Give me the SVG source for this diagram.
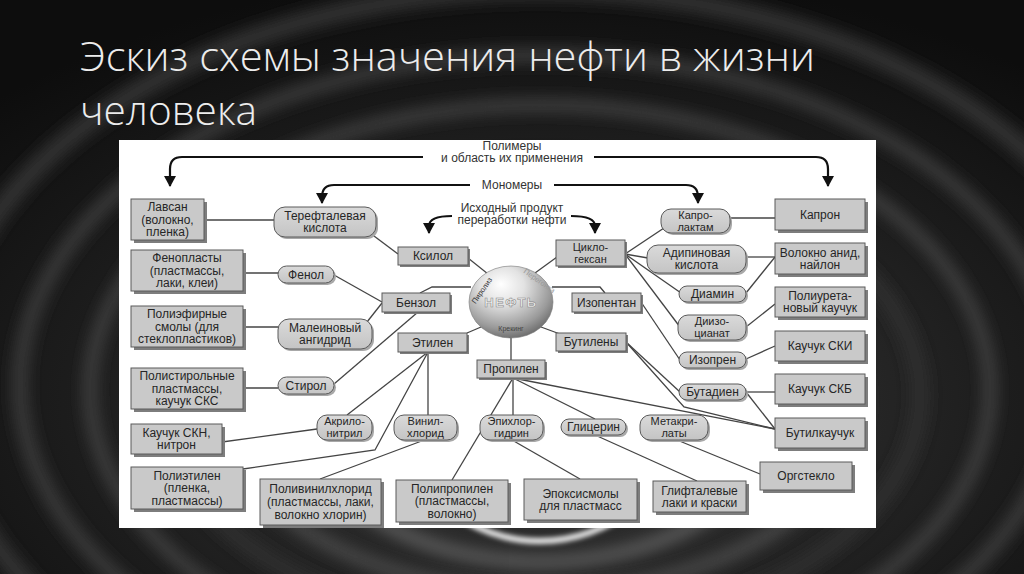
<svg xmlns="http://www.w3.org/2000/svg" width="1024" height="574" viewBox="0 0 1024 574">
<style>
.title{font-family:"Open Sans","Noto Sans","Liberation Sans",sans-serif;font-weight:300;font-size:40px;fill:#ececec}
.t{font-family:"Liberation Sans",Arial,sans-serif;font-size:12px;fill:#262626;text-anchor:middle}
.s{font-size:11px}
.h{font-family:"Liberation Sans",Arial,sans-serif;font-size:12px;fill:#333;text-anchor:middle}
.box{fill:#c9c9c9;stroke:#5a5a5a;stroke-width:1}
.pill{fill:url(#pillg);stroke:#5a5a5a;stroke-width:1}
.sh{fill:#7d7d7d}
.shp{fill:#a8a8a8}
.c{fill:none;stroke:#444;stroke-width:1.3}
.arr{fill:none;stroke:#111;stroke-width:2.2;marker-end:url(#ah)}
.ring{fill:none;filter:url(#blur)}
</style>
<defs>
<radialGradient id="bg" cx="0.53" cy="0.7" r="0.75">
<stop offset="0" stop-color="#3a3a3a"/>
<stop offset="0.6" stop-color="#1d1d1d"/>
<stop offset="1" stop-color="#0d0d0d"/>
</radialGradient>
<radialGradient id="sph" cx="0.42" cy="0.32" r="0.75" fx="0.38" fy="0.25">
<stop offset="0" stop-color="#ffffff"/>
<stop offset="0.35" stop-color="#e2e2e2"/>
<stop offset="0.75" stop-color="#9a9a9a"/>
<stop offset="1" stop-color="#5e5e5e"/>
</radialGradient>
<linearGradient id="pillg" x1="0" y1="0" x2="0" y2="1">
<stop offset="0" stop-color="#dadada"/>
<stop offset="1" stop-color="#c4c4c4"/>
</linearGradient>
<filter id="blur" x="-20%" y="-20%" width="140%" height="140%"><feGaussianBlur stdDeviation="8"/></filter>
<filter id="blur2" x="-20%" y="-20%" width="140%" height="140%"><feGaussianBlur stdDeviation="2.5"/></filter>
<marker id="ah" markerUnits="userSpaceOnUse" markerWidth="12" markerHeight="12" refX="10" refY="6" orient="auto" viewBox="0 0 12 12">
<path d="M0,0 L11,6 L0,12 Z" fill="#111"/>
</marker>
</defs>

<!-- background -->
<rect width="1024" height="574" fill="url(#bg)"/>
<g id="ripples">
<ellipse class="ring" cx="540" cy="380" rx="600" ry="390" stroke="#363636" stroke-width="18"/>
<ellipse class="ring" cx="540" cy="385" rx="520" ry="330" stroke="#424242" stroke-width="12"/>
<ellipse class="ring" cx="540" cy="390" rx="450" ry="285" stroke="#4c4c4c" stroke-width="10"/>
<ellipse class="ring" cx="540" cy="395" rx="380" ry="235" stroke="#333" stroke-width="14"/>
<ellipse class="ring" cx="540" cy="400" rx="320" ry="192" stroke="#5e5e5e" stroke-width="8"/>
<ellipse class="ring" cx="540" cy="410" rx="235" ry="152" stroke="#858585" stroke-width="7"/>
<ellipse cx="540" cy="420" rx="135" ry="121" fill="none" stroke="#f2f2f2" stroke-width="6" filter="url(#blur2)"/>
</g>

<!-- title -->
<text class="title" x="80" y="71" textLength="735" lengthAdjust="spacingAndGlyphs">Эскиз схемы значения нефти в жизни</text>
<text class="title" x="80" y="125" textLength="177" lengthAdjust="spacingAndGlyphs">человека</text>

<!-- panel -->
<rect x="119" y="140" width="757" height="388" fill="#ffffff"/>

<!-- header labels and arrows -->
<g id="headers">
<text class="h" x="512" y="150">Полимеры</text>
<text class="h" x="512" y="162">и область их применения</text>
<text class="h" x="512" y="189">Мономеры</text>
<text class="h" x="512" y="212">Исходный продукт</text>
<text class="h" x="512" y="224">переработки нефти</text>
<path class="arr" d="M423,157 H182 Q170,157 170,169 V186"/>
<path class="arr" d="M594,157 H816 Q828,157 828,169 V186"/>
<path class="arr" d="M470,185 H334 Q322,185 322,197 V203"/>
<path class="arr" d="M554,185 H686 Q698,185 698,197 V203"/>
<path class="arr" d="M452,216 C438,216 429,219 429,226 V233"/>
<path class="arr" d="M571,216 C585,216 595,219 595,226 V233"/>
</g>

<!-- connectors -->
<g id="connectors">
<path class="c" d="M204,220 H274"/>
<path class="c" d="M370,233 L398,254"/>
<path class="c" d="M468,258 L488,274"/>
<path class="c" d="M243,273 H278"/>
<path class="c" d="M334,275 L382,302"/>
<path class="c" d="M243,327 H278"/>
<path class="c" d="M367,322 L382,303"/>
<path class="c" d="M243,388 H278"/>
<path class="c" d="M334,384 L418,312"/>
<path class="c" d="M420,293 L432,287 H471"/>
<path class="c" d="M467,333 L481,327"/>
<path class="c" d="M511,338 V360"/>
<path class="c" d="M541,327 L560,334"/>
<path class="c" d="M552,287 H600 L605,293"/>
<path class="c" d="M535,273 L557,257"/>
<path class="c" d="M625,254 L664,228"/>
<path class="c" d="M625,254 L648,258"/>
<path class="c" d="M625,254 L681,293"/>
<path class="c" d="M625,254 L680,327"/>
<path class="c" d="M730,218 H775"/>
<path class="c" d="M746,257 H775"/>
<path class="c" d="M746,293 L775,257"/>
<path class="c" d="M746,327 L775,304"/>
<path class="c" d="M641,302 L680,360"/>
<path class="c" d="M746,359 L775,346"/>
<path class="c" d="M626,342 L680,392"/>
<path class="c" d="M626,342 L684,407 L775,429"/>
<path class="c" d="M746,392 H775"/>
<path class="c" d="M746,392 L775,429"/>
<path class="c" d="M513,378 L775,429"/>
<path class="c" d="M513,378 L595,419"/>
<path class="c" d="M513,378 V415"/>
<path class="c" d="M513,378 L452,480"/>
<path class="c" d="M595,435 L697,481"/>
<path class="c" d="M677,440 L760,474"/>
<path class="c" d="M512,440 L580,479"/>
<path class="c" d="M428,352 V415"/>
<path class="c" d="M428,352 L347,415"/>
<path class="c" d="M428,352 L375,450 L243,469"/>
<path class="c" d="M427,439 L320,479"/>
<path class="c" d="M317,429 L222,442"/>
</g>

<!-- sphere -->
<g id="n-oil">
<ellipse cx="511" cy="302" rx="42" ry="36" fill="url(#sph)" stroke="#777" stroke-width="0.6"/>
<text x="511" y="307" font-family="Liberation Sans,Arial,sans-serif" font-size="13" font-weight="bold" fill="#f4f4f4" stroke="#8a8a8a" stroke-width="0.6" text-anchor="middle" letter-spacing="1.5">НЕФТЬ</text>
<text x="0" y="0" transform="translate(484,292) rotate(-55)" font-family="Liberation Sans,Arial,sans-serif" font-size="7.5" fill="#333" text-anchor="middle">Пиролиз</text>
<text x="0" y="0" transform="translate(538,283) rotate(35)" font-family="Liberation Sans,Arial,sans-serif" font-size="7.5" fill="#9a9a9a" text-anchor="middle">Перегонка</text>
<text x="511" y="331" font-family="Liberation Sans,Arial,sans-serif" font-size="7" fill="#444" text-anchor="middle">Крекинг</text>
</g>

<!-- left column -->
<g id="n-lavsan"><rect class="sh" x="134" y="202" width="73" height="41"/><rect class="box" x="131" y="199" width="73" height="41"/><text class="t"><tspan x="167.5" y="211.2">Лавсан</tspan><tspan x="167.5" y="223.7">(волокно,</tspan><tspan x="167.5" y="236.2">пленка)</tspan></text></g>
<g id="n-fenoplast"><rect class="sh" x="134" y="253" width="112" height="41"/><rect class="box" x="131" y="250" width="112" height="41"/><text class="t"><tspan x="187" y="262.2">Фенопласты</tspan><tspan x="187" y="274.7">(пластмассы,</tspan><tspan x="187" y="287.2">лаки, клеи)</tspan></text></g>
<g id="n-polyester"><rect class="sh" x="134" y="309" width="112" height="41"/><rect class="box" x="131" y="306" width="112" height="41"/><text class="t"><tspan x="187" y="318.2">Полиэфирные</tspan><tspan x="187" y="330.7">смолы (для</tspan><tspan x="187" y="343.2">стеклопластиков)</tspan></text></g>
<g id="n-polystyrene"><rect class="sh" x="134" y="371" width="112" height="41"/><rect class="box" x="131" y="368" width="112" height="41"/><text class="t"><tspan x="187" y="380.2">Полистирольные</tspan><tspan x="187" y="392.7">пластмассы,</tspan><tspan x="187" y="405.2">каучук СКС</tspan></text></g>
<g id="n-skn"><rect class="sh" x="134" y="427" width="91" height="30"/><rect class="box" x="131" y="424" width="91" height="30"/><text class="t"><tspan x="176.5" y="437.2">Каучук СКН,</tspan><tspan x="176.5" y="449.2">нитрон</tspan></text></g>
<g id="n-polyethylene"><rect class="sh" x="134" y="470" width="112" height="42"/><rect class="box" x="131" y="467" width="112" height="42"/><text class="t"><tspan x="187" y="479.7">Полиэтилен</tspan><tspan x="187" y="492.2">(пленка,</tspan><tspan x="187" y="504.7">пластмассы)</tspan></text></g>

<!-- bottom row -->
<g id="n-pvc"><rect class="sh" x="263" y="482" width="121" height="46"/><rect class="box" x="260" y="479" width="121" height="46"/><text class="t"><tspan x="320.5" y="493.2">Поливинилхлорид</tspan><tspan x="320.5" y="506.2">(пластмассы, лаки,</tspan><tspan x="320.5" y="519.2">волокно хлорин)</tspan></text></g>
<g id="n-pp"><rect class="sh" x="399" y="483" width="112" height="42"/><rect class="box" x="396" y="480" width="112" height="42"/><text class="t"><tspan x="452" y="492.7">Полипропилен</tspan><tspan x="452" y="505.2">(пластмассы,</tspan><tspan x="452" y="517.7">волокно)</tspan></text></g>
<g id="n-epoxy"><rect class="sh" x="527" y="482" width="113" height="41"/><rect class="box" x="524" y="479" width="113" height="41"/><text class="t"><tspan x="580.5" y="497.7">Эпоксисмолы</tspan><tspan x="580.5" y="510.2">для пластмасс</tspan></text></g>
<g id="n-glyft"><rect class="sh" x="656" y="484" width="93" height="31"/><rect class="box" x="653" y="481" width="93" height="31"/><text class="t"><tspan x="699.5" y="494.7">Глифталевые</tspan><tspan x="699.5" y="506.7">лаки и краски</tspan></text></g>
<g id="n-orgsteklo"><rect class="sh" x="763" y="465" width="92" height="28"/><rect class="box" x="760" y="462" width="92" height="28"/><text class="t" x="806" y="480.2">Оргстекло</text></g>

<!-- right column -->
<g id="n-kapron"><rect class="sh" x="778" y="202" width="90" height="31"/><rect class="box" x="775" y="199" width="90" height="31"/><text class="t" x="820" y="218.7">Капрон</text></g>
<g id="n-anid"><rect class="sh" x="778" y="246" width="90" height="31"/><rect class="box" x="775" y="243" width="90" height="31"/><text class="t"><tspan x="820" y="256.7">Волокно анид,</tspan><tspan x="820" y="268.7">найлон</tspan></text></g>
<g id="n-poliur"><rect class="sh" x="778" y="290" width="90" height="30"/><rect class="box" x="775" y="287" width="90" height="30"/><text class="t"><tspan x="820" y="300.2">Полиурета-</tspan><tspan x="820" y="312.2">новый каучук</tspan></text></g>
<g id="n-ski"><rect class="sh" x="778" y="334" width="90" height="30"/><rect class="box" x="775" y="331" width="90" height="30"/><text class="t" x="820" y="350.2">Каучук СКИ</text></g>
<g id="n-skb"><rect class="sh" x="778" y="377" width="90" height="30"/><rect class="box" x="775" y="374" width="90" height="30"/><text class="t" x="820" y="393.2">Каучук СКБ</text></g>
<g id="n-butylk"><rect class="sh" x="778" y="421" width="90" height="30"/><rect class="box" x="775" y="418" width="90" height="30"/><text class="t" x="820" y="437.2">Бутилкаучук</text></g>

<!-- central products -->
<g id="n-xylol"><rect class="sh" x="400" y="249" width="70" height="18"/><rect class="box" x="398" y="247" width="70" height="18"/><text class="t" x="433" y="260.2">Ксилол</text></g>
<g id="n-benzol"><rect class="sh" x="384" y="295" width="68" height="19"/><rect class="box" x="382" y="293" width="68" height="19"/><text class="t" x="416" y="306.7">Бензол</text></g>
<g id="n-ethylen"><rect class="sh" x="400" y="335" width="69" height="19"/><rect class="box" x="398" y="333" width="69" height="19"/><text class="t" x="432.5" y="346.7">Этилен</text></g>
<g id="n-propylen"><rect class="sh" x="479" y="362" width="68" height="18"/><rect class="box" x="477" y="360" width="68" height="18"/><text class="t" x="511" y="373.2">Пропилен</text></g>
<g id="n-butylen"><rect class="sh" x="558" y="335" width="70" height="18"/><rect class="box" x="556" y="333" width="70" height="18"/><text class="t" x="591" y="346.2">Бутилены</text></g>
<g id="n-isopentan"><rect class="sh" x="574" y="295" width="69" height="19"/><rect class="box" x="572" y="293" width="69" height="19"/><text class="t" x="606.5" y="306.7">Изопентан</text></g>
<g id="n-cyclohex"><rect class="sh" x="558" y="242" width="69" height="26"/><rect class="box" x="556" y="240" width="69" height="26"/><text class="t s"><tspan x="590.5" y="250.8">Цикло-</tspan><tspan x="590.5" y="262.8">гексан</tspan></text></g>

<!-- monomers (rounded) -->
<g id="n-tereft"><rect class="shp" x="276" y="209" width="102" height="30" rx="11"/><rect class="pill" x="274" y="207" width="102" height="30" rx="11"/><text class="t"><tspan x="325" y="220.2">Терефталевая</tspan><tspan x="325" y="232.2">кислота</tspan></text></g>
<g id="n-phenol"><rect class="shp" x="280" y="268" width="56" height="17" rx="8.5"/><rect class="pill" x="278" y="266" width="56" height="17" rx="8.5"/><text class="t" x="306" y="278.7">Фенол</text></g>
<g id="n-malein"><rect class="shp" x="280" y="321" width="94" height="30" rx="11"/><rect class="pill" x="278" y="319" width="94" height="30" rx="11"/><text class="t"><tspan x="325" y="332.2">Малеиновый</tspan><tspan x="325" y="344.2">ангидрид</tspan></text></g>
<g id="n-styrol"><rect class="shp" x="280" y="379" width="56" height="17" rx="8.5"/><rect class="pill" x="278" y="377" width="56" height="17" rx="8.5"/><text class="t" x="306" y="389.7">Стирол</text></g>
<g id="n-acrylo"><rect class="shp" x="319" y="417" width="55" height="25" rx="10"/><rect class="pill" x="317" y="415" width="55" height="25" rx="10"/><text class="t s"><tspan x="344.5" y="425.4">Акрило-</tspan><tspan x="344.5" y="437.4">нитрил</tspan></text></g>
<g id="n-vinyl"><rect class="shp" x="396" y="417" width="63" height="25" rx="10"/><rect class="pill" x="394" y="415" width="63" height="25" rx="10"/><text class="t s"><tspan x="425.5" y="425.4">Винил-</tspan><tspan x="425.5" y="437.4">хлорид</tspan></text></g>
<g id="n-epichlor"><rect class="shp" x="482" y="417" width="63" height="25" rx="10"/><rect class="pill" x="480" y="415" width="63" height="25" rx="10"/><text class="t s"><tspan x="511.5" y="425.4">Эпихлор-</tspan><tspan x="511.5" y="437.4">гидрин</tspan></text></g>
<g id="n-glycerin"><rect class="shp" x="563" y="421" width="65" height="16" rx="8"/><rect class="pill" x="561" y="419" width="65" height="16" rx="8"/><text class="t" x="593.5" y="431.2">Глицерин</text></g>
<g id="n-metakril"><rect class="shp" x="642" y="417" width="68" height="25" rx="10"/><rect class="pill" x="640" y="415" width="68" height="25" rx="10"/><text class="t s"><tspan x="674" y="425.4">Метакри-</tspan><tspan x="674" y="437.4">латы</tspan></text></g>
<g id="n-capro"><rect class="shp" x="663" y="211" width="69" height="24" rx="10"/><rect class="pill" x="661" y="209" width="69" height="24" rx="10"/><text class="t s"><tspan x="695.5" y="218.9">Капро-</tspan><tspan x="695.5" y="230.9">лактам</tspan></text></g>
<g id="n-adipin"><rect class="shp" x="649" y="247" width="99" height="28" rx="11"/><rect class="pill" x="647" y="245" width="99" height="28" rx="11"/><text class="t"><tspan x="696.5" y="257.2">Адипиновая</tspan><tspan x="696.5" y="269.2">кислота</tspan></text></g>
<g id="n-diamin"><rect class="shp" x="681" y="288" width="67" height="16" rx="8"/><rect class="pill" x="679" y="286" width="67" height="16" rx="8"/><text class="t" x="712.5" y="298.2">Диамин</text></g>
<g id="n-diizo"><rect class="shp" x="680" y="317" width="68" height="25" rx="10"/><rect class="pill" x="678" y="315" width="68" height="25" rx="10"/><text class="t s"><tspan x="712" y="325.4">Диизо-</tspan><tspan x="712" y="337.4">цианат</tspan></text></g>
<g id="n-isopren"><rect class="shp" x="681" y="354" width="67" height="16" rx="8"/><rect class="pill" x="679" y="352" width="67" height="16" rx="8"/><text class="t" x="712.5" y="364.2">Изопрен</text></g>
<g id="n-butadien"><rect class="shp" x="681" y="386" width="67" height="16" rx="8"/><rect class="pill" x="679" y="384" width="67" height="16" rx="8"/><text class="t" x="712.5" y="396.2">Бутадиен</text></g>
</svg>
